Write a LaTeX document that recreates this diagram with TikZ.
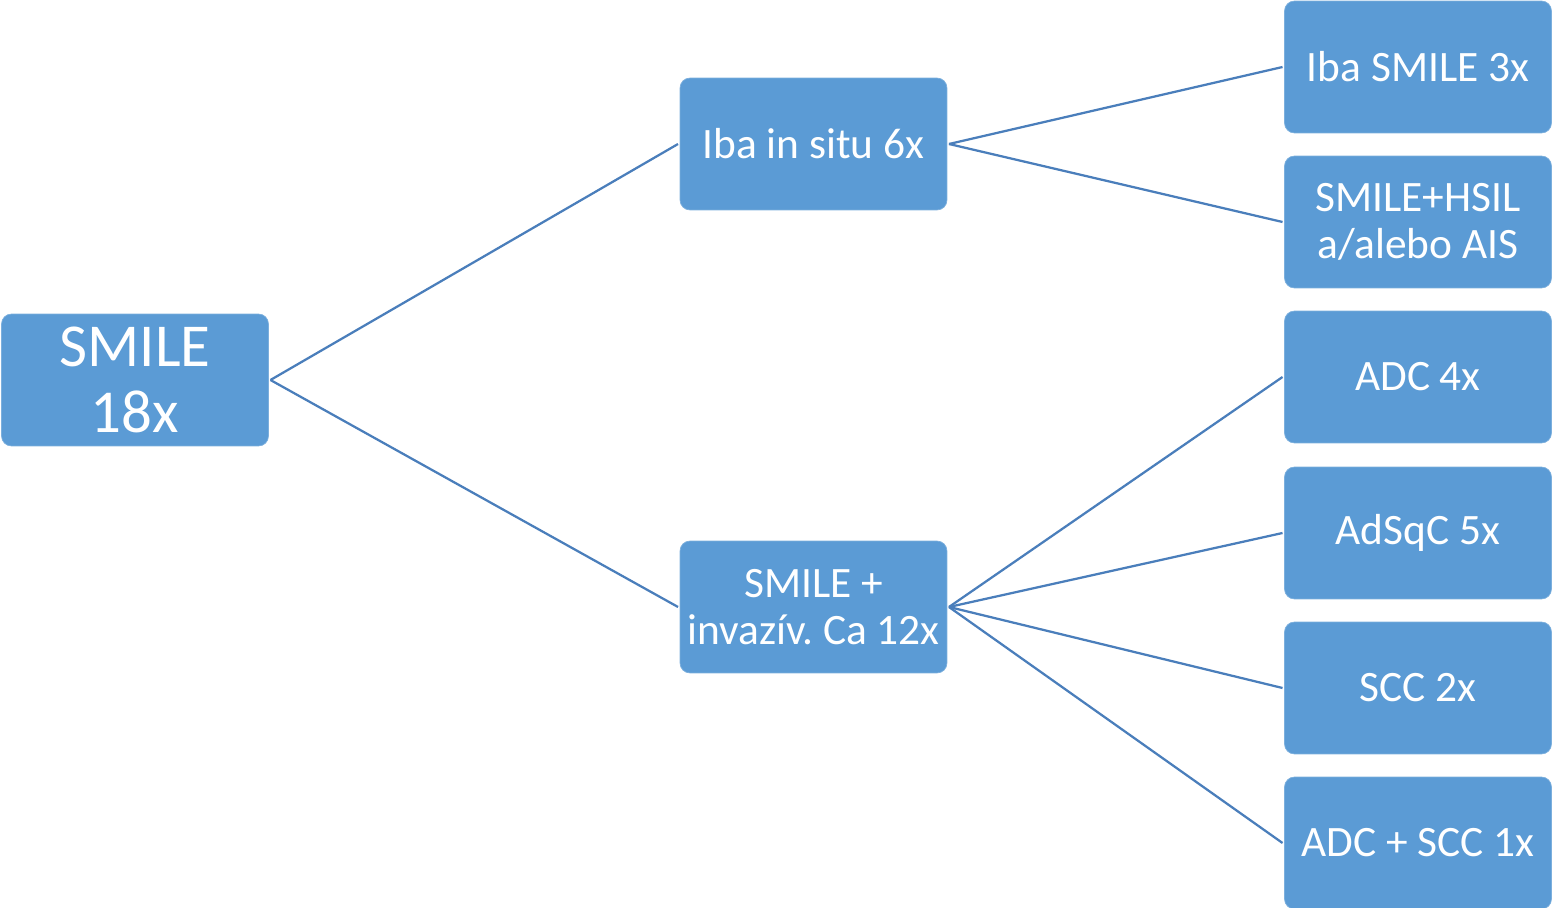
\documentclass[tikz,border=0pt]{standalone}
\usepackage{fontspec}
\setmainfont{Carlito}
\frenchspacing
\definecolor{boxblue}{HTML}{5B9BD5}
\definecolor{lineblue}{HTML}{4A7EBB}
\tikzset{
  box/.style = {rectangle, rounded corners=0.2cm, fill=boxblue, draw=boxblue!80!white,
    text=white, minimum width=5.34cm, minimum height=2.64cm, align=center,
    inner sep=0pt, outer sep=0.04cm, font=\fontsize{24.7}{27}\selectfont},
  bigbox/.style = {box, font=\fontsize{34.7}{38}\selectfont},
  link/.style = {draw=lineblue, line width=0.045cm},
}
\begin{document}
\begin{tikzpicture}[x=0.02cm,y=-0.02cm]
\useasboundingbox (0,0) rectangle (1552,908);
% root and middle column
\node[bigbox] (smile) at (135,380) {SMILE\\18x};
\node[box] (insitu) at (813.5,144) {Iba in situ 6x};
\node[box] (invaz) at (813.5,607) {SMILE +\\invazív. Ca 12x};
% right column
\node[box] (only) at (1418,67) {Iba SMILE 3x};
\node[box] (hsil) at (1418,222) {SMILE+HSIL\\a/alebo AIS};
\node[box] (adc) at (1418,377) {ADC 4x};
\node[box] (adsqc) at (1418,533) {AdSqC 5x};
\node[box] (scc) at (1418,688) {SCC 2x};
\node[box] (adcscc) at (1418,843) {ADC + SCC 1x};
% connectors
\draw[link] (smile.east) -- (insitu.west);
\draw[link] (smile.east) -- (invaz.west);
\draw[link] (insitu.east) -- (only.west);
\draw[link] (insitu.east) -- (hsil.west);
\foreach \n in {adc,adsqc,scc,adcscc}
  \draw[link] (invaz.east) -- (\n.west);
\end{tikzpicture}
\end{document}
